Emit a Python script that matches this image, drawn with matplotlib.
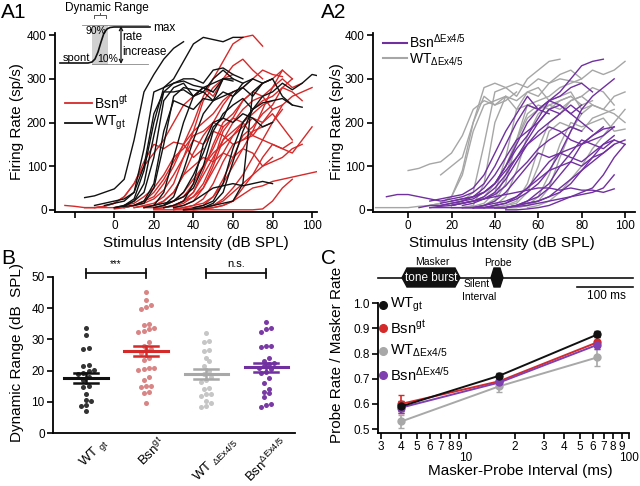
import numpy as np
import matplotlib
matplotlib.use("Agg")
import matplotlib.pyplot as plt
from matplotlib.patches import Polygon, Rectangle
from matplotlib.ticker import FixedLocator, FixedFormatter
from matplotlib.transforms import blended_transform_factory, ScaledTranslation

plt.rcParams['font.family'] = ['Liberation Sans', 'DejaVu Sans']
plt.rcParams['mathtext.fontset'] = 'custom'
plt.rcParams['mathtext.rm'] = 'Liberation Sans'
plt.rcParams['mathtext.it'] = 'Liberation Sans:italic'
plt.rcParams['mathtext.bf'] = 'Liberation Sans:bold'

# ---- colours ----
BLACK = '#111111'
RED = '#d42a2a'
GRAY = '#a6a6a6'
PURPLE = '#7030a0'

# ---- rate-level curves: (start dB, firing rates every 5 dB) ----
STEP = 5
wt_gt_curves = [
    (-15, [28, 32, 40, 48, 70, 160, 270, 310, 345, 370, 385]),
    (0, [5, 10, 25, 90, 200, 280, 300, 340, 380, 395, 390, 385, 395, 395]),
    (-5, [10, 15, 20, 40, 140, 270, 280, 290, 295, 285, 280, 270, 300]),
    (0, [5, 8, 20, 60, 170, 270, 290, 300, 300, 290, 320, 325, 310, 300]),
    (5, [10, 20, 40, 120, 250, 280, 290, 260, 280, 290, 300, 295]),
    (10, [10, 20, 60, 180, 250, 240, 230, 255, 250, 300, 300, 290]),
    (15, [5, 10, 40, 120, 200, 260, 270, 250, 260, 270, 280, 260, 290, 300]),
    (20, [5, 10, 30, 90, 160, 220, 250, 270, 260, 280, 300, 290]),
    (25, [5, 10, 20, 60, 150, 200, 210, 260, 290, 300]),
    (45, [5, 15, 40, 110, 180, 230, 260, 270, 290, 275, 290, 310, 305]),
    (40, [5, 10, 20, 60, 140, 200, 230, 245, 250, 255, 240, 235]),
    (35, [0, 2, 5, 10, 15, 20, 60, 270, 290, 300, 260, 240]),
    (20, [10, 15, 20, 30, 50, 100, 180, 220, 240, 255, 230]),
    (30, [5, 10, 20, 35, 50, 55, 60, 55, 60, 65, 60]),
    (-10, [10, 15, 20, 25, 40, 100, 220, 270, 270, 275, 260, 280, 270]),
    (5, [8, 10, 15, 50, 150, 260, 280, 275, 270, 300, 320, 300]),
    (25, [10, 20, 40, 80, 130, 190, 210, 200, 220, 210, 190, 200]),
]
bsn_gt_curves = [
    (-25, [10, 8, 5, 5, 8, 15, 30, 60, 110, 150, 140, 155, 150, 120, 140]),
    (-15, [5, 5, 8, 15, 30, 60, 100, 130, 160, 200, 240, 260, 280, 260, 300, 310]),
    (5, [5, 10, 20, 30, 60, 100, 150, 200, 260, 300, 340, 380, 395, 400, 375]),
    (10, [5, 10, 15, 30, 60, 120, 180, 250, 280, 300, 330, 345, 320, 300]),
    (10, [5, 8, 10, 20, 40, 80, 130, 170, 200, 240, 270, 280, 300, 320, 310, 305]),
    (15, [5, 5, 10, 20, 30, 60, 100, 140, 190, 210, 250, 270, 290, 300, 320]),
    (20, [2, 5, 10, 20, 40, 80, 120, 160, 180, 200, 230, 250, 260, 280, 270, 250]),
    (20, [5, 10, 20, 40, 70, 100, 130, 150, 170, 190, 210, 200, 230]),
    (25, [5, 8, 15, 30, 50, 90, 130, 170, 200, 220, 240, 250]),
    (25, [5, 10, 20, 40, 90, 150, 200, 220, 250, 270, 260, 280, 300, 280, 290]),
    (30, [2, 5, 10, 25, 60, 110, 150, 160, 170, 160, 150, 140, 155]),
    (30, [5, 10, 20, 50, 100, 160, 200, 230, 250, 260, 230, 240]),
    (35, [2, 5, 10, 30, 70, 120, 170, 190, 220, 240, 280, 300]),
    (35, [0, 2, 5, 10, 20, 40, 60, 80, 100, 110, 120, 140, 150]),
    (40, [0, 2, 5, 10, 20, 50, 80, 120, 150, 140, 130, 160, 190]),
    (35, [0, 0, 2, 5, 10, 20, 35, 50, 55, 65, 70, 75, 80, 85, 90]),
    (20, [0, 0, 0, 0, 0, 0, 0, 0, 0, 0, 0, 2, 20, 50, 70]),
    (0, [2, 5, 10, 20, 40, 70, 110, 150, 180, 200, 220, 250, 270]),
    (5, [5, 10, 15, 25, 45, 80, 120, 160, 150, 180, 170, 150, 160, 180, 190, 200, 230]),
    (15, [5, 10, 20, 40, 80, 100, 120, 110, 130, 120, 140, 130, 100, 120]),
    (45, [5, 10, 25, 50, 80, 120, 160, 200, 240, 260, 270, 280]),
    (30, [0, 5, 10, 15, 30, 60, 100, 140, 180, 230, 280, 320, 300]),
    (-10, [5, 5, 5, 10, 15, 30, 50, 80, 120, 140, 170, 180, 200, 190]),
    (20, [2, 5, 10, 20, 30, 60, 110, 180, 210, 200, 170, 200, 220, 190, 160]),
]
wt_ex_curves = [
    (0, [90, 95, 105, 110, 130, 170, 230, 250, 240, 260]),
    (15, [80, 100, 120, 200, 280, 290, 280, 260, 300, 320, 340, 345]),
    (10, [10, 15, 30, 80, 180, 240, 250, 260, 230, 240, 230, 250]),
    (20, [10, 20, 40, 150, 270, 280, 290, 280, 300, 290, 310, 320, 300]),
    (25, [5, 10, 60, 200, 260, 250, 270, 260, 290, 300, 295, 290]),
    (25, [5, 8, 15, 40, 120, 230, 270, 280, 250, 260, 270, 230, 240]),
    (30, [5, 10, 20, 60, 160, 240, 250, 260, 280, 290, 300, 320, 310, 320, 340]),
    (35, [5, 10, 30, 90, 170, 220, 240, 230, 250, 260, 280, 270, 240]),
    (40, [5, 10, 15, 40, 100, 180, 200, 190, 180, 210, 220, 230]),
    (45, [5, 5, 10, 30, 80, 150, 200, 190, 200, 210, 180, 185]),
    (30, [5, 10, 25, 80, 160, 210, 230, 240, 250, 260, 240, 250]),
    (45, [5, 5, 10, 20, 50, 120, 180, 220, 240, 230, 220, 200]),
    (40, [5, 10, 20, 60, 140, 200, 220, 250, 260, 240, 230, 260, 270]),
    (55, [5, 10, 20, 40, 70, 100, 140, 170, 200, 230]),
    (20, [10, 15, 20, 30, 60, 100, 160, 220, 240, 230, 250, 260]),
    (-15, [5, 5, 5, 5, 8, 10, 15, 30, 90, 200, 260, 240, 250, 270]),
]
bsn_ex_curves = [
    (-10, [30, 35, 35, 30, 25, 20, 25, 30, 40, 60, 100, 150, 200, 240, 230, 220]),
    (10, [20, 25, 30, 35, 50, 80, 130, 180, 220, 260, 230, 250, 240, 220, 240]),
    (15, [10, 15, 20, 25, 40, 60, 100, 140, 170, 210, 250, 270, 300, 330, 340, 345]),
    (20, [20, 25, 30, 40, 60, 100, 150, 200, 230, 250, 260, 280, 290, 270]),
    (20, [10, 15, 20, 30, 50, 80, 120, 160, 200, 230, 240, 220, 200, 180]),
    (25, [10, 15, 25, 40, 70, 110, 150, 170, 190, 180, 160, 150, 170, 190]),
    (30, [5, 10, 20, 40, 70, 100, 130, 120, 130, 140, 150, 160, 170, 190]),
    (30, [5, 10, 15, 20, 30, 50, 80, 110, 130, 120, 110, 130, 150, 160]),
    (35, [5, 10, 15, 30, 50, 70, 90, 100, 110, 100, 120, 130, 150, 160]),
    (40, [5, 5, 10, 20, 40, 60, 100, 130, 160, 150, 140, 160, 150]),
    (10, [5, 8, 10, 15, 20, 25, 30, 35, 40, 45, 50, 50, 45, 50, 45, 45, 40, 48]),
    (10, [5, 5, 5, 5, 5, 5, 5, 5, 8, 10, 15, 20, 25, 30, 35, 40, 50, 80]),
    (20, [5, 5, 5, 5, 5, 5, 10, 15, 20, 30, 40, 60, 90, 120, 150, 170]),
    (25, [5, 5, 5, 5, 5, 10, 20, 30, 50, 80, 110, 150, 170, 185, 190]),
    (15, [15, 20, 25, 30, 40, 60, 90, 120, 150, 180, 200, 220, 240, 220]),
    (5, [5, 10, 10, 15, 20, 30, 50, 80, 120, 160, 180, 200, 230, 220]),
    (30, [5, 5, 10, 15, 25, 40, 60, 90, 130, 180, 230, 260, 280, 300]),
    (40, [5, 5, 10, 15, 20, 30, 50, 70, 90, 110, 130, 150]),
    (45, [0, 0, 2, 5, 10, 20, 30, 40, 50, 80, 120, 150]),
    (20, [10, 15, 20, 25, 35, 55, 85, 110, 140, 160, 175, 190, 180]),
]

# ---- dynamic range (panel B) ----
groups_b = ['WT $_{\\mathrm{gt}}$', 'Bsn$^{\\mathrm{gt}}$',
            'WT $_{\\Delta\\mathrm{Ex4/5}}$', 'Bsn$^{\\Delta\\mathrm{Ex4/5}}$']
dr_wt_gt = [33.5, 31.5, 27.2, 26.8, 21.8, 21.4, 20.2, 19.8, 19.4, 19.0, 18.0,
            17.0, 15.2, 14.8, 12.5, 10.6, 10.4, 9.0, 8.8, 7.0]
dr_bsn_gt = [45, 42.5, 41, 40.2, 39.8, 35, 34.5, 33.5, 33.2, 32.8, 32.5, 29, 28,
             27, 26.5, 25.5, 24, 23.5, 21, 20.8, 20.5, 20.2, 18, 17, 15.2, 15, 14.8,
             13.2, 13, 9.6]
dr_wt_ex = [32, 29.5, 29, 26.5, 26.3, 24, 23, 21.5, 20, 19, 18, 17, 16.5, 14.5,
            14, 12.6, 12.4, 12, 10.2, 9.8, 8.6, 8.4]
dr_bsn_ex = [35.5, 33.5, 33.3, 32.5, 28, 27.8, 27.5, 24, 23, 22.5, 22, 21.5, 21,
             20.5, 19.6, 19.4, 17.5, 16, 14, 13.2, 12.8, 11.5, 9.2, 9.0, 8.5]
dr_mean = [17.8, 26.3, 19.0, 21.1]
dr_sem = [1.6, 1.7, 1.6, 1.5]
dot_colors = ['#333333', '#d98585', '#c6c6c6', '#7a3aa6']
mean_colors = [BLACK, RED, '#a8a8a8', PURPLE]

# ---- forward masking (panel C) ----
interval_ms = [4, 16, 64]
ratio_wt_gt = [0.59, 0.712, 0.876]
err_wt_gt = [0.02, 0.012, 0.012]
ratio_bsn_gt = [0.600, 0.690, 0.845]
err_bsn_gt = [0.035, 0.015, 0.02]
ratio_wt_ex = [0.530, 0.670, 0.785]
err_wt_ex = [0.025, 0.022, 0.035]
ratio_bsn_ex = [0.585, 0.685, 0.835]
err_bsn_ex = [0.02, 0.015, 0.018]

W, H = 640, 486
fig = plt.figure(figsize=(W / 100, H / 100), dpi=100)


def px_axes(left, top, right, bottom):
    return fig.add_axes([left / W, 1 - bottom / H, (right - left) / W, (bottom - top) / H])


def igor(ax):
    for s in ('top', 'right'):
        ax.spines[s].set_visible(False)
    for s in ('left', 'bottom'):
        ax.spines[s].set_linewidth(1.3)
    ax.tick_params(direction='out', length=4, width=1.2, labelsize=8.5, pad=2)
    ax.patch.set_alpha(0)


def draw_curves(ax, curves, color):
    for x0, ys in curves:
        xs = x0 + STEP * np.arange(len(ys))
        ax.plot(xs, ys, color=color, lw=1.0)


# ---- A1 ----
a1 = px_axes(55, 33, 317, 212)
draw_curves(a1, bsn_gt_curves, RED)
draw_curves(a1, wt_gt_curves, BLACK)
a1.set_xlim(-30, 102.5)
a1.set_ylim(-5, 405)
a1.set_xticks([-20, 0, 20, 40, 60, 80, 100])
a1.set_xticklabels(['', '0', '20', '40', '60', '80', '100'])
a1.set_yticks([0, 100, 200, 300, 400])
igor(a1)

# ---- A2 ----
a2 = px_axes(373, 33, 635, 212)
draw_curves(a2, wt_ex_curves, GRAY)
draw_curves(a2, bsn_ex_curves, PURPLE)
a2.set_xlim(-16.2, 104.6)
a2.set_ylim(-5, 405)
a2.set_xticks([0, 20, 40, 60, 80, 100])
a2.set_yticks([0, 100, 200, 300, 400])
igor(a2)

# ---- B ----
def swarm(vals, width=0.085, binsize=1.6):
    vals = np.asarray(vals, dtype=float)
    offs = np.zeros(len(vals))
    bins = []
    for i in np.argsort(vals):
        if bins and vals[i] - vals[bins[-1][0]] < binsize:
            bins[-1].append(i)
        else:
            bins.append([i])
    for b in bins:
        n = len(b)
        for k, i in enumerate(b):
            offs[i] = (k - (n - 1) / 2) * width
    return offs


bx = px_axes(53, 276.7, 295, 433.3)
for i, vals in enumerate([dr_wt_gt, dr_bsn_gt, dr_wt_ex, dr_bsn_ex]):
    bx.scatter(i + swarm(vals), vals, s=13, color=dot_colors[i], lw=0, zorder=2)
    bx.plot([i - 0.36, i + 0.36], [dr_mean[i]] * 2, color=mean_colors[i], lw=2.2, zorder=3)
    bx.plot([i - 0.2, i + 0.2], [dr_mean[i] + dr_sem[i]] * 2, color=mean_colors[i], lw=1.8, zorder=3)
    bx.plot([i - 0.2, i + 0.2], [dr_mean[i] - dr_sem[i]] * 2, color=mean_colors[i], lw=1.8, zorder=3)
    bx.plot([i, i], [dr_mean[i] - dr_sem[i], dr_mean[i] + dr_sem[i]], color=mean_colors[i], lw=1.8, zorder=3)
for (g0, g1), lab, fs in [((0, 1), '***', 7), ((2, 3), 'n.s.', 8)]:
    bx.plot([g0, g1], [51.1, 51.1], color=BLACK, lw=1.3, clip_on=False)
    for g in (g0, g1):
        bx.plot([g, g], [49.6, 52.6], color=BLACK, lw=1.3, clip_on=False)
    bx.text((g0 + g1) / 2, 52.4, lab, ha='center', va='bottom', fontsize=fs)
bx.set_xlim(-0.55, 3.48)
bx.set_ylim(0, 50)
bx.set_yticks([0, 10, 20, 30, 40, 50])
bx.set_xticks([])
igor(bx)
# rotated group labels, upper-right end just right of each group
label_dx = [14, 12, 24, 14]
trans_b = blended_transform_factory(bx.transData, bx.transAxes)
for i, lab in enumerate(groups_b):
    off = ScaledTranslation(label_dx[i] / 100, -2 / 100, fig.dpi_scale_trans)
    bx.text(i, 0, lab, transform=trans_b + off, rotation=45, rotation_mode='anchor',
            ha='right', va='top', fontsize=9.5, clip_on=False)

# ---- C ----
cx = px_axes(378, 303.3, 629, 432.7)
series_c = [(ratio_wt_ex, err_wt_ex, '#a8a8a8'), (ratio_bsn_gt, err_bsn_gt, RED),
            (ratio_bsn_ex, err_bsn_ex, '#8040b0'), (ratio_wt_gt, err_wt_gt, BLACK)]
for ys, es, col in series_c:
    cx.errorbar(interval_ms, ys, yerr=es, color=col, marker='o', ms=5, lw=1.4,
                elinewidth=1.2, capsize=2.5, mec=col)
cx.set_xscale('log')
cx.set_xlim(2.88, 100)
cx.set_ylim(0.4853, 1.0)
cx.set_yticks([0.5, 0.6, 0.7, 0.8, 0.9, 1.0])
cx.set_yticklabels(['0.5', '0.6', '0.7', '0.8', '0.9', '1.0'])
cx.xaxis.set_major_locator(FixedLocator([10, 100]))
cx.xaxis.set_major_formatter(FixedFormatter(['10', '100']))
minor = [3, 4, 5, 6, 7, 8, 9, 20, 30, 40, 50, 60, 70, 80, 90]
cx.xaxis.set_minor_locator(FixedLocator(minor))
cx.xaxis.set_minor_formatter(FixedFormatter([str(m)[0] for m in minor]))
igor(cx)
cx.tick_params(axis='x', which='minor', direction='out', length=4, width=1.2, labelsize=8.5, pad=2)
cx.tick_params(axis='x', which='major', length=4, pad=10, labelsize=8.5)

# ---- overlay for labels, legends and schematics (pixel coordinates) ----
ov = fig.add_axes([0, 0, 1, 1])
ov.set_xlim(0, W)
ov.set_ylim(H, 0)
ov.axis('off')
ov.patch.set_alpha(0)

for txt, x, y in [('A1', 1, 13), ('A2', 321, 13), ('B', 1, 258), ('C', 321, 258)]:
    ov.text(x, y, txt, fontsize=15, ha='left', va='center')

ov.text(17, 122, 'Firing Rate (sp/s)', rotation=90, ha='center', va='center', fontsize=11)
ov.text(337, 122, 'Firing Rate (sp/s)', rotation=90, ha='center', va='center', fontsize=11)
ov.text(196, 243, 'Stimulus Intensity (dB SPL)', ha='center', va='center', fontsize=11)
ov.text(502, 243, 'Stimulus Intensity (dB SPL)', ha='center', va='center', fontsize=11)
ov.text(17, 352, 'Dynamic Range (dB  SPL)', rotation=90, ha='center', va='center', fontsize=11)
ov.text(337, 355, 'Probe Rate / Masker Rate', rotation=90, ha='center', va='center', fontsize=11)
ov.text(520, 471, 'Masker-Probe Interval (ms)', ha='center', va='center', fontsize=11)

# A1 legend
ov.plot([65, 92], [103, 103], color=RED, lw=1.3)
ov.text(94, 103, 'Bsn$^{\\mathrm{gt}}$', va='center', fontsize=10)
ov.plot([65, 92], [123, 123], color=BLACK, lw=1.3)
ov.text(94, 123, 'WT$_{\\mathrm{gt}}$', va='center', fontsize=10)
# A2 legend
ov.plot([383, 407], [43, 43], color=PURPLE, lw=1.5)
ov.text(409, 42, 'Bsn$^{\\Delta\\mathrm{Ex4/5}}$', va='center', fontsize=10)
ov.plot([383, 407], [58, 58], color=GRAY, lw=1.5)
ov.text(409, 60, 'WT$_{\\Delta\\mathrm{Ex4/5}}$', va='center', fontsize=10)
# C legend
for y, lab, col in [(305, 'WT$_{\\mathrm{gt}}$', BLACK), (328, 'Bsn$^{\\mathrm{gt}}$', RED),
                    (351, 'WT$_{\\Delta\\mathrm{Ex4/5}}$', '#a8a8a8'),
                    (375, 'Bsn$^{\\Delta\\mathrm{Ex4/5}}$', '#8040b0')]:
    ov.plot([383], [y], 'o', color=col, ms=5.5)
    ov.text(390, y, lab, va='center', fontsize=10.5)

# A1 inset: dynamic range schematic
ov.add_patch(Rectangle((92, 25), 16, 40, color='#d0d0d0', lw=0))
ov.plot([82, 148], [25, 25], color='#888888', lw=0.6)
ov.plot([92, 148], [64.5, 64.5], color='#888888', lw=0.6)
sig_x = [60, 88, 92, 95, 98, 101, 104, 107, 110, 114, 150]
sig_y = [63, 63, 62, 59, 52, 42, 33, 29, 27.5, 27, 27]
ov.plot(sig_x, sig_y, color=BLACK, lw=1.2)
ov.annotate('', xy=(121, 26), xytext=(121, 64),
            arrowprops=dict(arrowstyle='<->', lw=0.9, color=BLACK, shrinkA=0, shrinkB=0,
                            mutation_scale=6))
ov.plot([94, 94, 106, 106], [18, 15.5, 15.5, 18], color='#555555', lw=0.7)
ov.plot([100, 100], [15.5, 13.5], color='#555555', lw=0.7)
ov.text(107, 8, 'Dynamic Range', ha='center', va='center', fontsize=8.5)
ov.text(96, 31, '90%', ha='center', va='center', fontsize=7.5)
ov.text(108, 59, '10%', ha='center', va='center', fontsize=7.5)
ov.text(90, 58, 'spont', ha='right', va='center', fontsize=8)
ov.text(153, 28, 'max', ha='left', va='center', fontsize=8.5)
ov.text(122, 37, 'rate', ha='left', va='center', fontsize=8.5)
ov.text(122, 52, 'increase', ha='left', va='center', fontsize=8.5)

# C schematic: masker / probe stimulus
ov.plot([378, 633], [277.7, 277.7], color=BLACK, lw=1.2)
ov.add_patch(Polygon([(402, 277.7), (407, 268), (455, 268), (460, 277.7), (455, 287), (407, 287)],
                     closed=True, color=BLACK))
ov.add_patch(Polygon([(491, 277.7), (494, 268), (500, 268), (503, 277.7), (500, 287), (494, 287)],
                     closed=True, color=BLACK))
ov.text(431, 278, 'tone burst', color='white', ha='center', va='center', fontsize=8.5)
ov.text(432, 262, 'Masker', ha='center', va='center', fontsize=7.5)
ov.text(498, 263, 'Probe', ha='center', va='center', fontsize=7.5)
ov.text(477, 284, 'Silent', ha='center', va='center', fontsize=7.5)
ov.text(479, 297, 'Interval', ha='center', va='center', fontsize=7.5)
ov.plot([577, 633], [287, 287], color=BLACK, lw=1.2)
ov.text(606, 296, '100 ms', ha='center', va='center', fontsize=8.5)

fig.savefig('out.png', dpi=100)
